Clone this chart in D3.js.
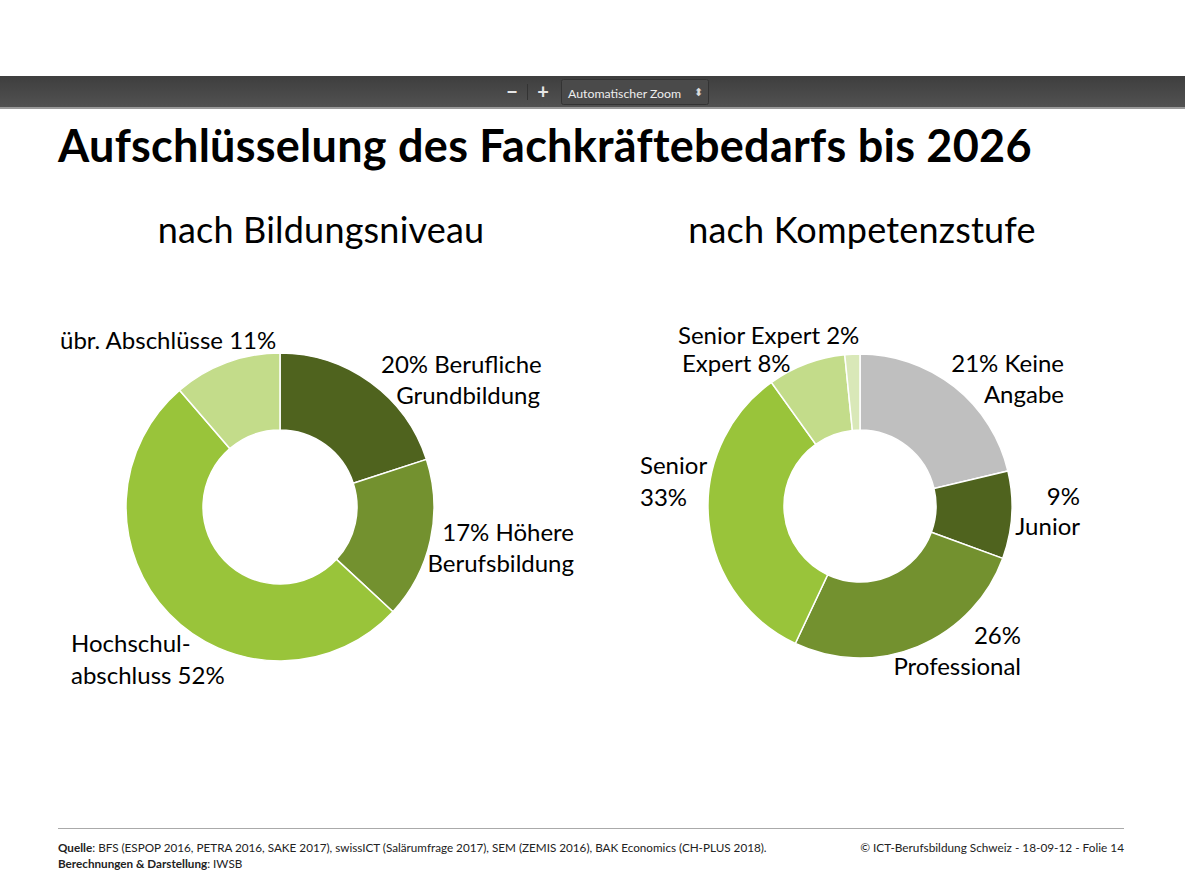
<!DOCTYPE html>
<html>
<head>
<meta charset="utf-8">
<script src="https://cdn.jsdelivr.net/npm/d3@7"></script>
<style>
html, body { margin: 0; padding: 0; background: #fff; overflow: hidden; }
svg { display: block; font-family: Lato, "Open Sans", sans-serif; }
</style>
</head>
<body>
<script>
// values, the printed labels are the rounded figures
const bildungLabels = ["Berufliche Grundbildung", "Höhere Berufsbildung", "Hochschulabschluss", "übr. Abschlüsse"];
const bildungValues = [20, 16.9, 51.8, 11.3];
const bildungColors = ["#4f631e", "#73912f", "#99c43a", "#c3dc8a"];

const kompetenzLabels = ["Keine Angabe", "Junior", "Professional", "Senior", "Expert", "Senior Expert"];
const kompetenzValues = [21.3, 9.3, 26.4, 33.1, 8.3, 1.6];
const kompetenzColors = ["#bfbfbf", "#4f631e", "#73912f", "#99c43a", "#c3dc8a", "#d9e8b8"];

// label text per line, with anchor and position on the slide
const bildungText = [
    { lines: ["20% Berufliche"], x: 381, y: 373, anchor: "start" },
    { lines: ["Grundbildung"], x: 540, y: 404, anchor: "end" },
    { lines: ["17% Höhere"], x: 574, y: 541, anchor: "end" },
    { lines: ["Berufsbildung"], x: 574, y: 572, anchor: "end" },
    { lines: ["Hochschul-", "abschluss 52%"], x: 71, y: 652, anchor: "start" },
    { lines: ["übr. Abschlüsse 11%"], x: 60, y: 349, anchor: "start" }
];
const kompetenzText = [
    { lines: ["21% Keine"], x: 1064, y: 372, anchor: "end" },
    { lines: ["Angabe"], x: 1064, y: 403, anchor: "end" },
    { lines: ["9%"], x: 1080, y: 505, anchor: "end" },
    { lines: ["Junior"], x: 1080, y: 535, anchor: "end" },
    { lines: ["26%"], x: 1021, y: 644, anchor: "end" },
    { lines: ["Professional"], x: 1021, y: 675, anchor: "end" },
    { lines: ["Senior", "33%"], x: 640, y: 474, anchor: "start" },
    { lines: ["Senior Expert 2%"], x: 678, y: 344, anchor: "start" },
    { lines: ["Expert 8%"], x: 682, y: 372, anchor: "start" }
];

const width = 1185;
const height = 889;

const svg = d3.select("body").append("svg")
    .attr("width", width)
    .attr("height", height);

const grad = svg.append("defs").append("linearGradient")
    .attr("id", "bar")
    .attr("x1", 0).attr("x2", 0).attr("y1", 0).attr("y2", 1);
grad.append("stop").attr("offset", "0%").attr("stop-color", "#3e3e3e");
grad.append("stop").attr("offset", "100%").attr("stop-color", "#525252");

// pdf viewer toolbar
const toolbar = svg.append("g");
toolbar.append("rect")
    .attr("x", 0).attr("y", 76)
    .attr("width", width).attr("height", 32)
    .attr("fill", "url(#bar)");
toolbar.append("rect")
    .attr("x", 0).attr("y", 107)
    .attr("width", width).attr("height", 2)
    .attr("fill", "#9a9a9a");
toolbar.append("text")
    .attr("x", 512).attr("y", 92)
    .attr("dy", "0.35em")
    .attr("text-anchor", "middle")
    .attr("fill", "#e6e6e6")
    .style("font-size", "20px")
    .style("font-weight", "700")
    .text("−");
toolbar.append("rect")
    .attr("x", 527).attr("y", 84)
    .attr("width", 1).attr("height", 16)
    .attr("fill", "#333");
toolbar.append("text")
    .attr("x", 543).attr("y", 92)
    .attr("dy", "0.35em")
    .attr("text-anchor", "middle")
    .attr("fill", "#e6e6e6")
    .style("font-size", "20px")
    .style("font-weight", "700")
    .text("+");
toolbar.append("rect")
    .attr("x", 561.5).attr("y", 79.5)
    .attr("width", 147).attr("height", 25)
    .attr("rx", 2)
    .attr("fill", "#4a4a4a")
    .attr("stroke", "#333");
toolbar.append("text")
    .attr("x", 568).attr("y", 98)
    .attr("fill", "#eee")
    .style("font-size", "12.3px")
    .text("Automatischer Zoom");
toolbar.append("text")
    .attr("x", 698).attr("y", 92)
    .attr("dy", "0.35em")
    .attr("text-anchor", "middle")
    .attr("fill", "#ddd")
    .style("font-size", "11px")
    .text("⬍");

// headings
svg.append("text")
    .attr("x", 58).attr("y", 162)
    .attr("fill", "#000")
    .style("font-size", "45px")
    .style("font-weight", "700")
    .style("letter-spacing", "0.26px")
    .text("Aufschlüsselung des Fachkräftebedarfs bis 2026");
svg.append("text")
    .attr("x", 321).attr("y", 243)
    .attr("text-anchor", "middle")
    .style("font-size", "36px")
    .style("letter-spacing", "0.2px")
    .text("nach Bildungsniveau");
svg.append("text")
    .attr("x", 862).attr("y", 243)
    .attr("text-anchor", "middle")
    .style("font-size", "36px")
    .style("letter-spacing", "0.2px")
    .text("nach Kompetenzstufe");

function drawDonut(cx, cy, outer, inner, labels, values, colors) {
    const color = d3.scaleOrdinal().domain(labels).range(colors);
    const pie = d3.pie().sort(null).value((d, i) => values[i]);
    const arc = d3.arc().innerRadius(inner).outerRadius(outer);
    svg.append("g")
        .attr("transform", `translate(${cx},${cy})`)
        .selectAll("path")
        .data(pie(labels))
        .join("path")
        .attr("d", arc)
        .attr("fill", d => color(d.data))
        .attr("stroke", "#fff")
        .attr("stroke-width", 1.5);
}

function drawLabels(items) {
    items.forEach(item => {
        const t = svg.append("text")
            .attr("text-anchor", item.anchor)
            .attr("fill", "#000")
            .style("font-size", "24px");
        item.lines.forEach((line, i) => {
            t.append("tspan")
                .attr("x", item.x)
                .attr("y", item.y + i * 31.5)
                .text(line);
        });
    });
}

drawDonut(280, 507, 154, 77, bildungLabels, bildungValues, bildungColors);
drawDonut(860, 506, 152, 76, kompetenzLabels, kompetenzValues, kompetenzColors);
drawLabels(bildungText);
drawLabels(kompetenzText);

// footer
svg.append("line")
    .attr("x1", 58).attr("x2", 1124)
    .attr("y1", 828.5).attr("y2", 828.5)
    .attr("stroke", "#aaa");

const source = svg.append("text")
    .attr("x", 58).attr("y", 852)
    .attr("fill", "#222")
    .style("font-size", "11.7px");
source.append("tspan").style("font-weight", "700").text("Quelle");
source.append("tspan").text(": BFS (ESPOP 2016, PETRA 2016, SAKE 2017), swissICT (Salärumfrage 2017), SEM (ZEMIS 2016), BAK Economics (CH-PLUS 2018).");

const credit = svg.append("text")
    .attr("x", 58).attr("y", 868)
    .attr("fill", "#222")
    .style("font-size", "11.7px");
credit.append("tspan").style("font-weight", "700").text("Berechnungen & Darstellung");
credit.append("tspan").text(": IWSB");

svg.append("text")
    .attr("x", 1124).attr("y", 852)
    .attr("text-anchor", "end")
    .attr("fill", "#222")
    .style("font-size", "11.8px")
    .text("© ICT-Berufsbildung Schweiz - 18-09-12 - Folie 14");
</script>
</body>
</html>
